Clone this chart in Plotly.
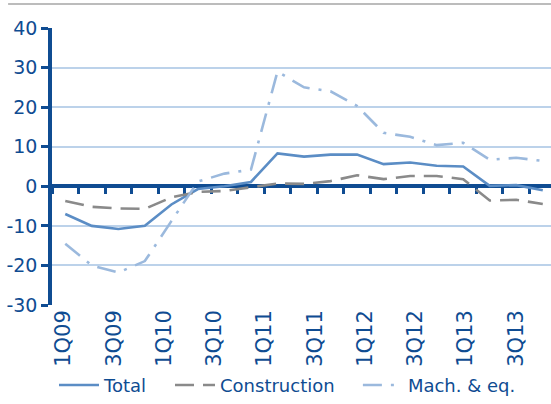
import plotly.graph_objects as go

quarters = ["1Q09", "2Q09", "3Q09", "4Q09", "1Q10", "2Q10", "3Q10", "4Q10",
            "1Q11", "2Q11", "3Q11", "4Q11", "1Q12", "2Q12", "3Q12", "4Q12",
            "1Q13", "2Q13", "3Q13"]
tick_labels = ["1Q09", "3Q09", "1Q10", "3Q10", "1Q11", "3Q11", "1Q12", "3Q12", "1Q13", "3Q13"]
y_ticks = [-30, -20, -10, 0, 10, 20, 30, 40]
y_tick_text = ["-30", "-20", "-10", "0", "10", "20", "30", "40"]

total = [-7.0, -10.0, -10.8, -10.0, -4.6, -0.7, 0.0, 1.1, 8.3, 7.5, 8.0, 8.0,
         5.6, 6.0, 5.2, 5.0, 0.1, 0.3, -1.0]
construction = [-3.7, -5.2, -5.6, -5.7, -2.8, -1.4, -1.2, -0.3, 0.7, 0.6, 1.3, 2.8,
                1.8, 2.6, 2.6, 1.8, -3.6, -3.4, -4.5]
mach = [-14.5, -20.0, -21.8, -18.9, -8.8, 1.2, 3.2, 4.2, 29.0, 25.0, 24.0, 20.3,
        13.5, 12.5, 10.4, 11.0, 6.7, 7.2, 6.4]

y_range = [-30, 40]

DARK = "#0f4c92"
GRID = "#bcd2ea"
FONT = "DejaVu Sans"

fig = go.Figure()
fig.add_trace(go.Scatter(x=quarters, y=total, name="Total", mode="lines", legend="legend",
                         line=dict(color="#5b8dc5", width=2.6)))
fig.add_trace(go.Scatter(x=quarters, y=construction, name="Construction", mode="lines",
                         legend="legend2",
                         line=dict(color="#8a8a8a", width=2.6, dash="19px,9px")))
fig.add_trace(go.Scatter(x=quarters, y=mach, name="Mach. & eq.", mode="lines",
                         legend="legend3",
                         line=dict(color="#9bb9dd", width=2.6, dash="19px,9px,3px,9px")))
# empty trace to carry the label axis
fig.add_trace(go.Scatter(x=[], y=[], xaxis="x2", showlegend=False, hoverinfo="skip"))

zero_pos = (0 - y_range[0]) / (y_range[1] - y_range[0])

leg_common = dict(orientation="h", xanchor="left", y=-0.29, yanchor="middle",
                  font=dict(family=FONT, size=18, color=DARK), itemwidth=40,
                  bgcolor="rgba(0,0,0,0)")

fig.update_layout(
    width=551, height=404,
    margin=dict(l=52, r=0, t=28, b=99),
    paper_bgcolor="white", plot_bgcolor="white",
    font=dict(family=FONT, color=DARK, size=17),
    showlegend=True,
    legend=dict(x=0.004, **leg_common),
    legend2=dict(x=0.2365, **leg_common),
    legend3=dict(x=0.613, **leg_common),
    xaxis=dict(type="category", range=[-0.5, 18.31], showticklabels=False,
               ticks="outside", tickson="boundaries", ticklen=6, tickwidth=3,
               tickcolor=DARK, showline=True, linecolor=DARK, linewidth=3.5,
               showgrid=False, zeroline=False, anchor="free", position=zero_pos,
               layer="below traces"),
    xaxis2=dict(overlaying="x", anchor="y", side="bottom", range=[-0.229, 9.701],
                tickmode="array", tickvals=list(range(len(tick_labels))), ticktext=tick_labels,
                tickangle=-90, ticks="", showgrid=False, zeroline=False, showline=False,
                tickfont=dict(family=FONT, size=21, color=DARK)),
    yaxis=dict(range=y_range, tickmode="array", tickvals=y_ticks, ticktext=y_tick_text,
               showgrid=True, gridcolor=GRID, gridwidth=1.5,
               zeroline=False, showline=True, linecolor=DARK, linewidth=3.5,
               ticks="outside", ticklen=7, tickwidth=3, tickcolor=DARK,
               tickfont=dict(family=FONT, size=19, color=DARK)),
    shapes=[dict(type="line", xref="paper", yref="paper", x0=-0.088, x1=1.0,
                 y0=1.087, y1=1.087, line=dict(color="#a6a6a6", width=1.5))],
)

fig.write_html("out.html", config={"displayModeBar": False},
               post_script="document.body.style.margin='0';")
